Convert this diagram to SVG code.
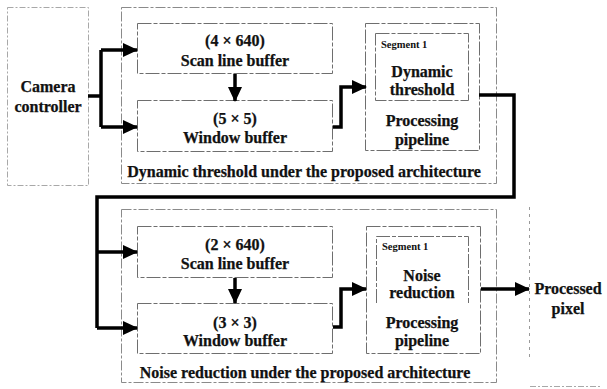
<svg xmlns="http://www.w3.org/2000/svg" width="607" height="389" viewBox="0 0 607 389">
  <defs>
    <marker id="arrow" markerUnits="userSpaceOnUse" markerWidth="16" markerHeight="14" refX="14" refY="7" orient="auto">
      <path d="M0,0 L15,7 L0,14 Z" fill="#000"/>
    </marker>
    <style>
      .box { fill: none; stroke: #6e6e6e; stroke-width: 1; stroke-dasharray: 14 2 4 2; }
      .outer { fill: none; stroke: #8a8a8a; stroke-width: 1; stroke-dasharray: 10 2 3 2; }
      .light { fill: none; stroke: #a8a8a8; stroke-width: 1; stroke-dasharray: 6 2 2 2; }
      .faint { fill: none; stroke: #9a9a9a; stroke-width: 1; stroke-dasharray: 3 4; }
      .t { font-family: "Liberation Serif", "Times New Roman", serif; font-weight: bold; font-size: 16px; fill: #111; stroke: #111; stroke-width: 0.25; text-anchor: middle; }
      .seg { font-family: "Liberation Serif", "Times New Roman", serif; font-weight: bold; font-size: 10.5px; fill: #111; }
      .wire { fill: none; stroke: #000; stroke-width: 3.5; stroke-linejoin: miter; }
    </style>
  </defs>
  <rect width="607" height="389" fill="#fff"/>

  <!-- Camera controller -->
  <g id="camera">
    <rect class="light" x="7.5" y="7.5" width="81" height="178"/>
    <text class="t" x="48" y="92">Camera</text>
    <text class="t" x="48" y="112">controller</text>
  </g>

  <!-- Dynamic threshold stage -->
  <g id="stage-threshold">
    <rect class="outer" x="121.5" y="7.5" width="375" height="176"/>
    <text class="t" x="304" y="177">Dynamic threshold under the proposed architecture</text>
  </g>
  <g id="scan-buffer-1">
    <rect class="box" x="137.5" y="23.5" width="195" height="50"/>
    <text class="t" x="235" y="46">(4 × 640)</text>
    <text class="t" x="235" y="66">Scan line buffer</text>
  </g>
  <g id="window-buffer-1">
    <rect class="box" x="137.5" y="100.5" width="195" height="51"/>
    <text class="t" x="235" y="124">(5 × 5)</text>
    <text class="t" x="235" y="143">Window buffer</text>
  </g>
  <g id="pipeline-1">
    <rect class="box" x="365.5" y="23.5" width="114" height="127"/>
    <rect class="box" x="375.5" y="33.5" width="93" height="67"/>
    <text class="seg" x="381" y="48">Segment 1</text>
    <text class="t" x="422" y="77">Dynamic</text>
    <text class="t" x="422" y="95">threshold</text>
    <text class="t" x="422" y="126">Processing</text>
    <text class="t" x="422" y="145">pipeline</text>
  </g>

  <!-- Noise reduction stage -->
  <g id="stage-noise">
    <rect class="outer" x="121.5" y="209.5" width="375" height="173"/>
    <text class="t" x="305" y="378">Noise reduction under the proposed architecture</text>
  </g>
  <g id="scan-buffer-2">
    <rect class="box" x="137.5" y="226.5" width="195" height="51"/>
    <text class="t" x="235" y="250">(2 × 640)</text>
    <text class="t" x="235" y="269">Scan line buffer</text>
  </g>
  <g id="window-buffer-2">
    <rect class="box" x="137.5" y="303.5" width="195" height="50"/>
    <text class="t" x="235" y="328">(3 × 3)</text>
    <text class="t" x="235" y="346">Window buffer</text>
  </g>
  <g id="pipeline-2">
    <rect class="box" x="366.5" y="226.5" width="114" height="127"/>
    <path class="box" d="M376.5,303 V236.5 H468.5 V303"/>
    <text class="seg" x="382" y="250">Segment 1</text>
    <text class="t" x="422" y="281">Noise</text>
    <text class="t" x="422" y="298">reduction</text>
    <text class="t" x="422" y="328">Processing</text>
    <text class="t" x="422" y="346">pipeline</text>
  </g>

  <!-- Output -->
  <g id="processed-pixel">
    <path class="faint" d="M529.5,207 V358"/>
    <path class="light" d="M530,386.5 H602"/>
    <text class="t" x="568" y="294">Processed</text>
    <text class="t" x="568" y="314">pixel</text>
  </g>

  <!-- Connectors -->
  <g id="connectors">
    <path class="wire" d="M88,96 H101"/>
    <path class="wire" d="M101,50 V127"/>
    <path class="wire" d="M101,50 H137" marker-end="url(#arrow)"/>
    <path class="wire" d="M101,127 H137" marker-end="url(#arrow)"/>
    <path class="wire" d="M235,74 V101" marker-end="url(#arrow)"/>
    <path class="wire" d="M333,127 H341 V87 H366" marker-end="url(#arrow)"/>
    <path class="wire" d="M479,95 H514 V197 H97 V328"/>
    <path class="wire" d="M97,252 H137" marker-end="url(#arrow)"/>
    <path class="wire" d="M97,328 H137" marker-end="url(#arrow)"/>
    <path class="wire" d="M235,278 V303" marker-end="url(#arrow)"/>
    <path class="wire" d="M333,327 H341 V289 H366" marker-end="url(#arrow)"/>
    <path class="wire" d="M481,289 H529" marker-end="url(#arrow)"/>
  </g>
</svg>
